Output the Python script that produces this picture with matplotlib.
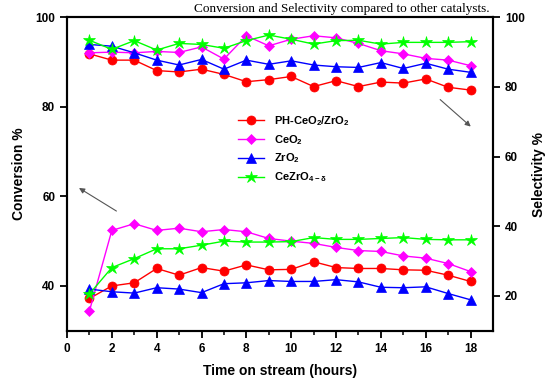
import numpy as np
import matplotlib
matplotlib.use("Agg")
import matplotlib.pyplot as plt

# =========================
# data
# =========================
hours = list(range(1, 19))

# conversion % (left axis)
conv_ph = [37.2, 40.0, 40.7, 43.9, 42.4, 44.1, 43.3, 44.7, 43.6,
           43.7, 45.4, 44.1, 43.9, 43.9, 43.6, 43.5, 42.4, 41.0]
conv_ceo2 = [34.4, 52.4, 53.9, 52.4, 52.9, 52.1, 52.6, 52.1, 50.6,
             50.0, 49.5, 48.6, 47.9, 47.7, 46.7, 46.2, 45.0, 43.2]
conv_zro2 = [39.3, 38.7, 38.4, 39.6, 39.3, 38.5, 40.5, 40.7, 41.2,
             41.0, 41.0, 41.4, 40.9, 39.7, 39.6, 39.8, 38.3, 36.9]
conv_cezro = [38.2, 44.1, 46.1, 48.3, 48.3, 49.1, 50.0, 49.8, 49.8,
              49.9, 50.8, 50.4, 50.4, 50.6, 50.8, 50.4, 50.3, 50.3]

# selectivity % (right axis)
sel_ph = [89.5, 87.7, 87.7, 84.7, 84.3, 85.1, 83.6, 81.5, 82.1,
          83.0, 80.1, 81.8, 80.1, 81.4, 81.1, 82.3, 79.9, 79.1]
sel_ceo2 = [89.8, 90.0, 89.8, 90.2, 89.9, 91.5, 88.0, 94.7, 91.8,
            93.7, 94.7, 94.1, 92.5, 90.4, 89.5, 88.2, 87.7, 86.1]
sel_zro2 = [92.2, 91.7, 89.8, 87.7, 86.3, 87.9, 85.1, 87.7, 86.5,
            87.5, 86.3, 85.8, 85.6, 87.0, 85.3, 86.8, 85.1, 84.2]
sel_cezro = [93.4, 90.8, 93.3, 90.6, 92.5, 92.2, 91.1, 93.3, 94.9,
             93.7, 92.3, 93.3, 93.4, 92.3, 92.8, 92.8, 92.8, 93.0]

labels = ["PH-CeO$_2$/ZrO$_2$", "CeO$_2$", "ZrO$_2$", "CeZrO$_{4-δ}$"]
colors = ["#ff0000", "#ff00ff", "#0000ff", "#00ff00"]
markers = ["o", "D", "^", "*"]
msizes = [6.5, 5.5, 7, 9]

# =========================
# style
# =========================
plt.rcParams["font.family"] = ["Liberation Sans", "DejaVu Sans"]
plt.rcParams["font.weight"] = "bold"
plt.rcParams["mathtext.fontset"] = "custom"
plt.rcParams["mathtext.rm"] = "Liberation Sans:bold"
plt.rcParams["mathtext.default"] = "rm"

fig = plt.figure(figsize=(5.5, 3.81), dpi=100)
ax = fig.add_axes([0.1218, 0.132, 0.7746, 0.8226])
ax2 = ax.twinx()

conv = [conv_ph, conv_ceo2, conv_zro2, conv_cezro]
sel = [sel_ph, sel_ceo2, sel_zro2, sel_cezro]

handles = []
for c, s, col, m, ms, lab in zip(conv, sel, colors, markers, msizes, labels):
    h, = ax.plot(hours, c, color=col, marker=m, markersize=ms, linewidth=1.0,
                 markeredgewidth=0.5, label=lab)
    ax2.plot(hours, s, color=col, marker=m, markersize=ms, linewidth=1.0,
             markeredgewidth=0.5)
    handles.append(h)

ax.set_xlim(0, 19)
ax.set_ylim(30, 100)
ax2.set_ylim(10, 100)

ax.set_xticks(range(0, 19, 2))
ax.set_xticks(range(1, 19, 2), minor=True)
ax.set_yticks([40, 60, 80, 100])
ax2.set_yticks([20, 40, 60, 80, 100])

for a in (ax, ax2):
    for sp in a.spines.values():
        sp.set_linewidth(1.5)
    a.tick_params(which="major", length=5, width=1.3, labelsize=8.5, direction="out")
    a.tick_params(which="minor", length=3, width=1.1, direction="out")

ax.set_xlabel("Time on stream (hours)", fontsize=10, fontweight="bold", labelpad=7)
ax.set_ylabel("Conversion %", fontsize=10, fontweight="bold", labelpad=7)
ax2.set_ylabel("Selectivity %", fontsize=10, fontweight="bold", labelpad=5)

# arrows pointing to the matching axis
ax.annotate("", xy=(0.43, 62.2), xytext=(2.31, 56.4),
            arrowprops=dict(arrowstyle="-|>", color="#555555", lw=0.8,
                            mutation_scale=8))
ax2.annotate("", xy=(18.1, 68.1), xytext=(16.55, 76.9),
             arrowprops=dict(arrowstyle="-|>", color="#555555", lw=0.8,
                             mutation_scale=8))

ax.legend(handles=handles, loc="upper left",
          bbox_to_anchor=(238 / 550, 1 - 114 / 381),
          bbox_transform=fig.transFigure, frameon=False, fontsize=8,
          handlelength=2.3, handletextpad=0.9, labelspacing=0.45,
          borderpad=0, borderaxespad=0)

# caption fragment at the top of the image
fig.text(490 / 550, 1 - 12 / 381, "Conversion and Selectivity compared to other catalysts.",
         ha="right", va="baseline", fontsize=9.5, fontweight="normal",
         family=["Liberation Serif", "DejaVu Serif"])

fig.savefig("out.png", dpi=100)
